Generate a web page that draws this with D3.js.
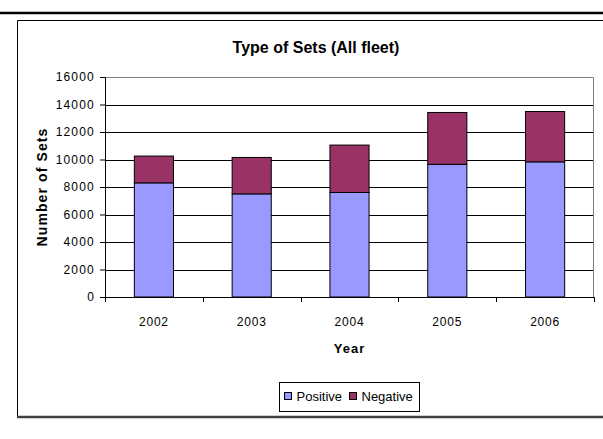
<!DOCTYPE html>
<html lang="en">
<head>
  <meta charset="UTF-8">
  <title>Type of Sets</title>
  <script src="https://d3js.org/d3.v7.min.js"></script>
  <style>
    body { margin: 0; background: #fff; }
    svg { font-family: "Liberation Sans", Arial, sans-serif; }
  </style>
</head>
<body>
  <svg id="chart" width="603" height="439"></svg>

  <script>
    // chart data
    const years = ["2002", "2003", "2004", "2005", "2006"];
    const positive = [8300, 7500, 7600, 9650, 9830];
    const negative = [1950, 2650, 3450, 3770, 3660];
    const yTicks = [0, 2000, 4000, 6000, 8000, 10000, 12000, 14000, 16000];
    const seriesNames = ["Positive", "Negative"];
    const seriesColors = ["#9999ff", "#993366"];

    const svg = d3.select("#chart");

    // page rules and outer chart box
    svg.append("line")
      .attr("x1", 0).attr("x2", 603).attr("y1", 13).attr("y2", 13)
      .attr("stroke", "#000").attr("stroke-width", 2.5);
    svg.append("path")
      .attr("d", "M603,20.5 H17.5 V417")
      .attr("fill", "none").attr("stroke", "#000").attr("stroke-width", 1);
    svg.append("line")
      .attr("x1", 17).attr("x2", 603).attr("y1", 417).attr("y2", 417)
      .attr("stroke", "#404040").attr("stroke-width", 2.5);

    const margin = { top: 77, left: 105, right: 9, bottom: 142 };
    const width = 603 - margin.left - margin.right,
          height = 439 - margin.top - margin.bottom;

    const g = svg.append("g").attr("transform", `translate(${margin.left},${margin.top})`);

    const x = d3.scaleBand().domain(years).range([0, width]).paddingInner(0).paddingOuter(0);
    const y = d3.scaleLinear().domain([0, 16000]).range([height, 0]);

    // gridlines
    g.append("g")
      .selectAll("line")
      .data(yTicks.filter(d => d > 0 && d < 16000))
      .join("line")
      .attr("x1", 0).attr("x2", width)
      .attr("y1", d => Math.round(y(d)) + 0.5).attr("y2", d => Math.round(y(d)) + 0.5)
      .attr("stroke", "#000").attr("stroke-width", 1);

    // plot border (top and right)
    g.append("path")
      .attr("d", `M0,0.5 H${width - 0.5} V${height}`)
      .attr("fill", "none").attr("stroke", "#808080").attr("stroke-width", 1);

    // stacked bars
    const stack = years.map((yr, i) => ({ year: yr, pos: positive[i], neg: negative[i] }));
    const barW = x.bandwidth() * 0.4;
    const barX = d => x(d.year) + (x.bandwidth() - barW) / 2;

    g.selectAll(".bar-pos")
      .data(stack)
      .join("rect")
      .attr("class", "bar-pos")
      .attr("x", barX)
      .attr("y", d => y(d.pos))
      .attr("width", barW)
      .attr("height", d => height - y(d.pos))
      .attr("fill", seriesColors[0])
      .attr("stroke", "#000").attr("stroke-width", 1);

    g.selectAll(".bar-neg")
      .data(stack)
      .join("rect")
      .attr("class", "bar-neg")
      .attr("x", barX)
      .attr("y", d => y(d.pos + d.neg))
      .attr("width", barW)
      .attr("height", d => y(d.pos) - y(d.pos + d.neg))
      .attr("fill", seriesColors[1])
      .attr("stroke", "#000").attr("stroke-width", 1);

    // Y axis
    const yAxis = g.append("g")
      .call(d3.axisLeft(y).tickValues(yTicks).tickSize(5).tickPadding(5).tickFormat(d3.format("d")));
    yAxis.select(".domain").attr("stroke", "#000");
    yAxis.selectAll("text")
      .attr("font-size", 12).attr("fill", "#000")
      .style("letter-spacing", "1.2px");

    // X axis (ticks at category boundaries)
    const xAxis = g.append("g").attr("transform", `translate(0,${height})`);
    xAxis.append("line")
      .attr("x1", 0).attr("x2", width).attr("y1", 0.5).attr("y2", 0.5)
      .attr("stroke", "#000");
    xAxis.selectAll(".xtick")
      .data(years.concat(["end"]))
      .join("line")
      .attr("class", "xtick")
      .attr("x1", (d, i) => Math.round(i * x.step()) + 0.5)
      .attr("x2", (d, i) => Math.round(i * x.step()) + 0.5)
      .attr("y1", 0).attr("y2", 5)
      .attr("stroke", "#000");
    xAxis.selectAll(".xlabel")
      .data(years)
      .join("text")
      .attr("class", "xlabel")
      .attr("x", d => x(d) + x.bandwidth() / 2)
      .attr("y", 29)
      .attr("text-anchor", "middle")
      .attr("font-size", 12)
      .style("letter-spacing", "0.8px")
      .text(d => d);

    // titles
    svg.append("text")
      .attr("x", 316).attr("y", 53)
      .attr("text-anchor", "middle")
      .attr("font-size", 16).attr("font-weight", "bold")
      .text("Type of Sets (All fleet)");

    svg.append("text")
      .attr("x", margin.left + width / 2).attr("y", 353)
      .attr("text-anchor", "middle")
      .attr("font-size", 13).attr("font-weight", "bold")
      .style("letter-spacing", "1px")
      .text("Year");

    svg.append("text")
      .attr("transform", `translate(47,${margin.top + height / 2}) rotate(-90)`)
      .attr("text-anchor", "middle")
      .attr("font-size", 14).attr("font-weight", "bold")
      .style("letter-spacing", "1.1px")
      .text("Number of Sets");

    // legend
    const legend = svg.append("g").attr("transform", "translate(279.5,382.5)");
    legend.append("rect")
      .attr("width", 140).attr("height", 29)
      .attr("fill", "#fff").attr("stroke", "#000");
    const items = legend.selectAll(".item")
      .data(seriesNames)
      .join("g")
      .attr("class", "item")
      .attr("transform", (d, i) => `translate(${i === 0 ? 5 : 70},0)`);
    items.append("rect")
      .attr("y", 10).attr("width", 7).attr("height", 7)
      .attr("fill", (d, i) => seriesColors[i]).attr("stroke", "#000");
    items.append("text")
      .attr("x", 12).attr("y", 18.5)
      .attr("font-size", 13)
      .text(d => d);
  </script>
</body>
</html>
